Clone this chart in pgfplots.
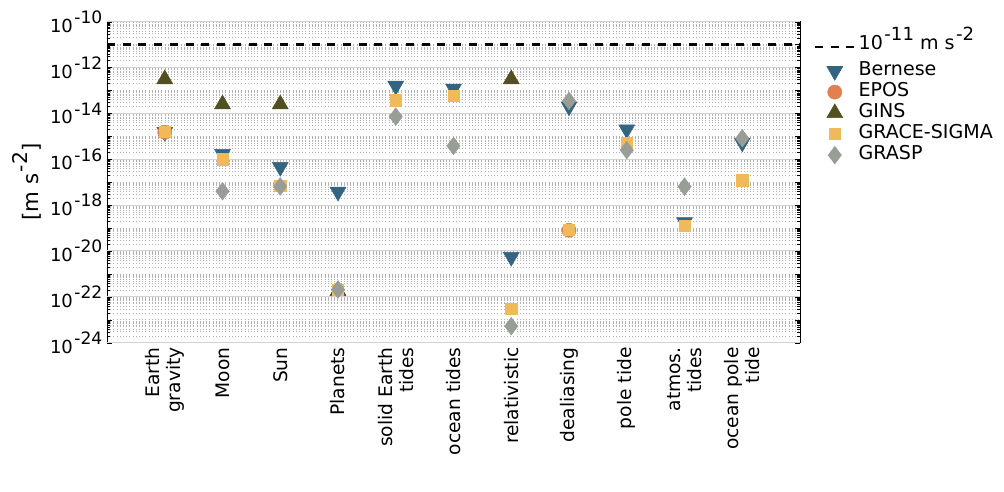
\documentclass[border=0pt]{standalone}
\usepackage{fontspec}
\setmainfont{DejaVu Sans}
\usepackage{pgfplots}
\pgfplotsset{compat=1.18}

\definecolor{cbern}{HTML}{336582}
\definecolor{cepos}{HTML}{E2804F}
\definecolor{cgins}{HTML}{524F21}
\definecolor{csigma}{HTML}{F0B95A}
\definecolor{cgrasp}{HTML}{989E96}

\makeatletter
\newcommand{\sq}[1]{\kern0.08em\raisebox{0.48em}{\fontsize{\fpeval{0.95*\f@size}}{0}\selectfont #1}}
\makeatother

\pgfplotsset{
    marklegend/.style={legend image code/.code={%
        \path[draw=none,fill=none] (0pt,-5pt) rectangle (30pt,5pt);
        \draw[mark repeat=2,mark phase=2,##1] plot coordinates {(0pt,0pt) (15pt,0pt) (30pt,0pt)};}},
    dashlegend/.style={legend image code/.code={%
        \path[draw=none,fill=none] (0pt,-5pt) rectangle (30pt,5pt);
        \draw[##1] (0pt,0pt) -- (30pt,0pt);}},
}

\begin{document}
\begin{tikzpicture}
\useasboundingbox (-80.25pt,-111.75pt) rectangle (672.75pt,257pt);
\begin{axis}[
    scale only axis,
    width=519.75pt, height=240.75pt,
    xmin=0, xmax=12,
    ymode=log, ymin=1e-24, ymax=1e-10,
    xtick={1,...,11},
    xticklabels={Earth\\gravity, Moon, Sun, Planets, solid Earth\\tides,
        ocean tides, relativistic, dealiasing, pole tide, atmos.\\tides,
        ocean pole\\tide},
    xtick style={draw=none},
    xticklabel style={rotate=90, anchor=east, align=right,
        font=\fontsize{14}{16}\selectfont},
    ytick={1e-24,1e-23,1e-22,1e-21,1e-20,1e-19,1e-18,1e-17,1e-16,1e-15,
        1e-14,1e-13,1e-12,1e-11,1e-10},
    yticklabels={10\sq{-24},{},10\sq{-22},{},10\sq{-20},{},10\sq{-18},{},
        10\sq{-16},{},10\sq{-14},{},10\sq{-12},{},10\sq{-10}},
    extra y ticks={1e-24,1e-22,1e-20,1e-18,1e-16,1e-14,1e-12,1e-10},
    extra y tick labels={{},{},{},{},{},{},{},{}},
    extra y tick style={major grid style={solid, gray!35, line width=0.8pt}},
    yticklabel style={font=\fontsize{13.5}{15}\selectfont},
    ylabel={[m s\sq{-2}]},
    ylabel style={font=\fontsize{16}{19}\selectfont},
    ymajorgrids, yminorgrids,
    major grid style={dotted, gray!60},
    minor grid style={dotted, gray!60},
    major tick length=4pt, minor tick length=2pt,
    tick style={black},
    axis line style={black, line width=0.6pt},
    legend style={draw=none, fill=none, at={(1,1)}, anchor=north west,
        xshift=10pt, yshift=-9pt, inner sep=0pt,
        font=\fontsize{14.3}{16}\selectfont,
        nodes={text height=10.5pt, text depth=3.25pt, inner ysep=1pt}},
    legend cell align=left,
    marklegend,
]
\addplot[black, line width=1.8pt, dash pattern=on 6pt off 5.8pt, dashlegend]
    coordinates {(0,1e-11) (12,1e-11)};
\addlegendentry[text depth=7.5pt]{10\sq{-11} m s\sq{-2}}

\addplot[only marks, mark=triangle*, mark size=6.9pt, color=cbern,
    mark options={rotate=180}]
    coordinates {(1,1.55e-15) (2,1.7e-16) (3,4.6e-17) (4,3.8e-18) (5,1.6e-13)
        (6,1.2e-13) (7,5.5e-21) (8,2e-14) (9,2e-15) (10,1.8e-19) (11,5.3e-16)};
\addlegendentry{Bernese}

\addplot[only marks, mark=*, mark size=5.3pt, color=cepos]
    coordinates {(1,1.5e-15) (8,8e-20)};
\addlegendentry{EPOS}

\addplot[only marks, mark=triangle*, mark size=6.9pt, color=cgins]
    coordinates {(1,3.1e-13) (2,2.5e-14) (3,2.5e-14) (4,1.8e-22) (7,3.1e-13)};
\addlegendentry{GINS}

\addplot[only marks, mark=square*, mark size=4.2pt, color=csigma]
    coordinates {(1,1.6e-15) (2,1e-16) (3,7e-18) (4,2.1e-22) (5,3.7e-14)
        (6,6e-14) (7,3e-23) (8,8.7e-20) (9,5.1e-16) (10,1.3e-19) (11,1.2e-17)};
\addlegendentry{GRACE-SIGMA}

\addplot[only marks, mark=diamond*, mark size=6.6pt, color=cgrasp]
    coordinates {(2,4e-18) (3,6.5e-18) (4,2.1e-22) (5,7.2e-15) (6,3.8e-16)
        (7,5.2e-24) (8,3.5e-14) (9,2.5e-16) (10,6.4e-18) (11,8.2e-16)};
\addlegendentry{GRASP}
\end{axis}
\end{tikzpicture}
\end{document}
